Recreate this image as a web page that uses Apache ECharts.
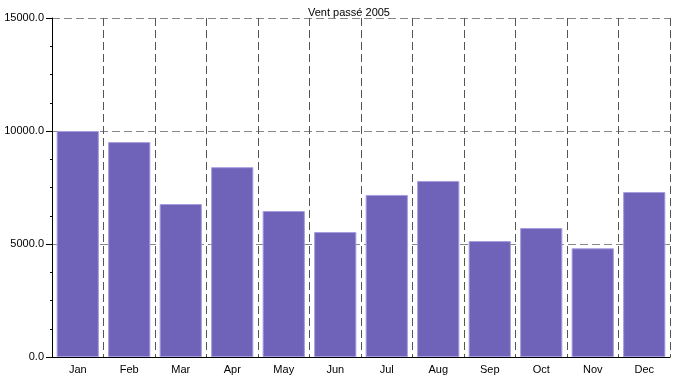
<!DOCTYPE html>
<html>
<head>
<meta charset="utf-8">
<script src="https://cdn.jsdelivr.net/npm/echarts@6/dist/echarts.min.js"></script>
<style>
  html, body { margin: 0; padding: 0; background: #fff; }
  #chart { width: 674px; height: 377px; }
</style>
</head>
<body>
<div id="chart"></div>
<script>
// data
const months = ['Jan', 'Feb', 'Mar', 'Apr', 'May', 'Jun', 'Jul', 'Aug', 'Sep', 'Oct', 'Nov', 'Dec'];
const windValues = [10000, 9510, 6770, 8400, 6460, 5530, 7170, 7790, 5130, 5710, 4810, 7300];
const yTicks = [0, 5000, 10000, 15000];

const chart = echarts.init(document.getElementById('chart'));
const font = 'Liberation Sans, Arial, sans-serif';

chart.setOption({
  animation: false,
  title: {
    text: 'Vent passé 2005',
    left: 344,
    textAlign: 'center',
    top: 2,
    textStyle: { fontFamily: font, fontSize: 11, fontWeight: 'normal', color: '#000' }
  },
  grid: { left: 52, right: 4, top: 18, bottom: 20 },
  xAxis: {
    type: 'category',
    data: months,
    axisLine: { lineStyle: { color: '#000', width: 1 } },
    axisTick: { length: 5, lineStyle: { color: '#000' } },
    axisLabel: { fontFamily: font, fontSize: 11, color: '#000', margin: 7 },
    splitLine: { show: true, lineStyle: { color: '#555', type: [8, 4], width: 1 } }
  },
  yAxis: {
    type: 'value',
    min: yTicks[0],
    max: yTicks[yTicks.length - 1],
    interval: yTicks[1] - yTicks[0],
    axisLine: { show: true, lineStyle: { color: '#000', width: 1 } },
    axisTick: { show: true, length: 6, lineStyle: { color: '#000' } },
    minorTick: { show: true, splitNumber: 4, length: 2, lineStyle: { color: '#000' } },
    axisLabel: {
      fontFamily: font, fontSize: 11, color: '#000', margin: 8,
      formatter: v => v.toFixed(1)
    },
    splitLine: { show: true, lineStyle: { color: '#888', type: [8, 4], width: 1 } }
  },
  series: [{
    type: 'bar',
    data: windValues,
    barCategoryGap: '18%',
    itemStyle: { color: '#6f63b9', borderColor: '#a69ee0', borderWidth: 1 }
  }]
});
</script>
</body>
</html>
